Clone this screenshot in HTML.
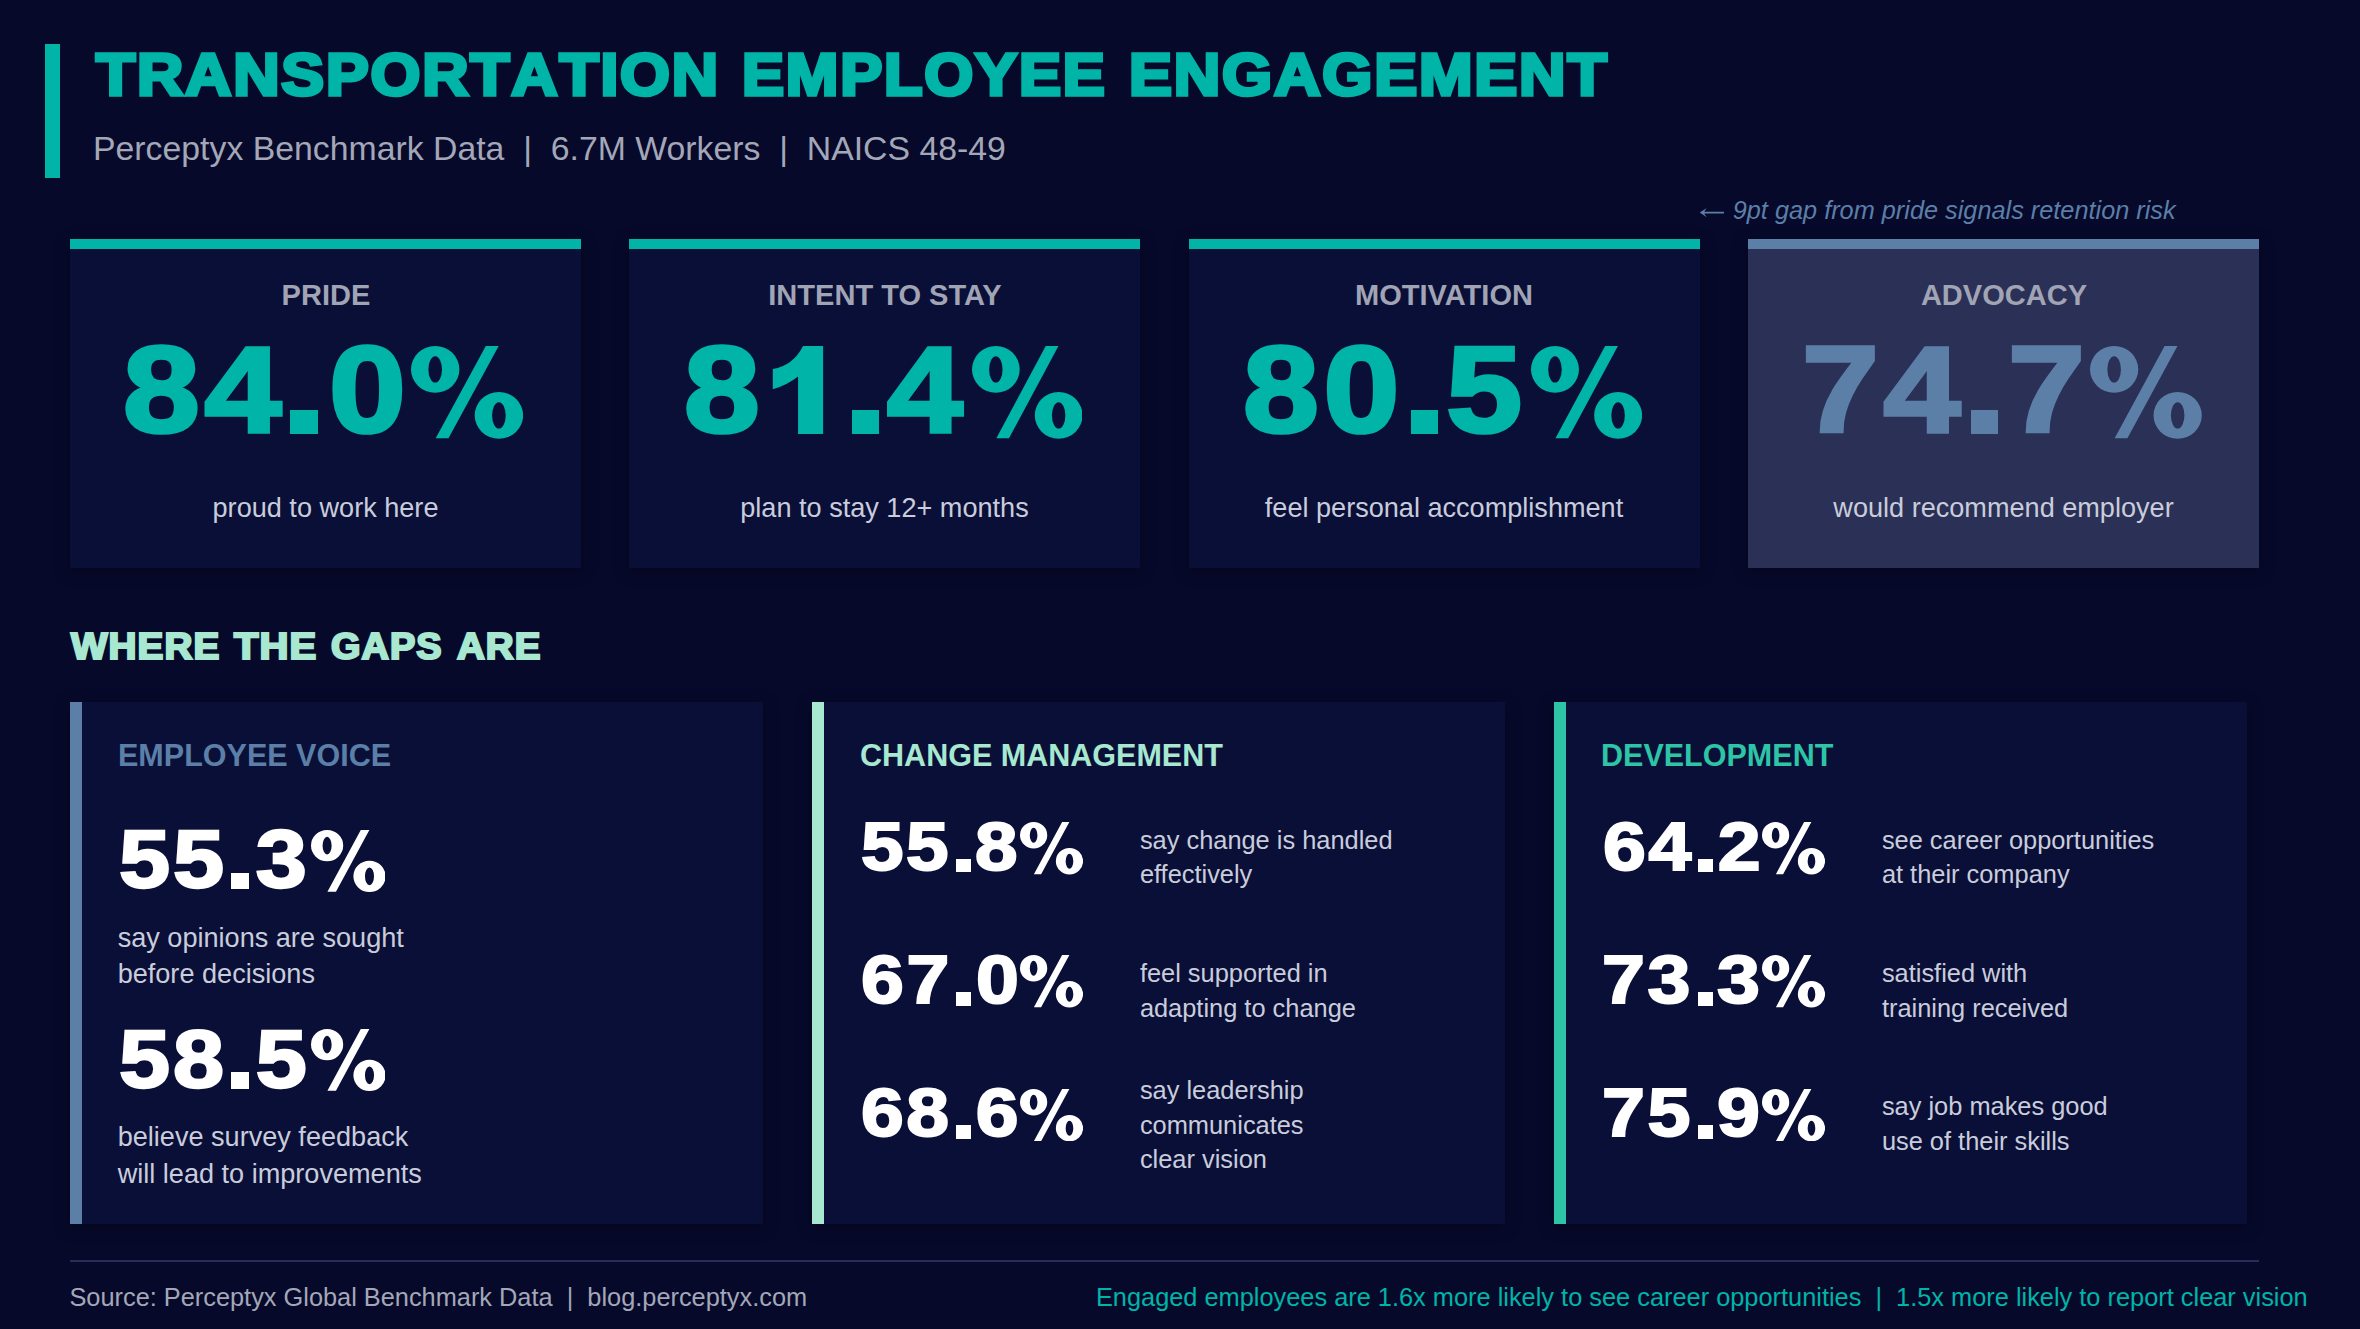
<!DOCTYPE html>
<html lang="en">
<head>
<meta charset="utf-8">
<title>Transportation Employee Engagement</title>
<style>
*{margin:0;padding:0;box-sizing:border-box}
html,body{width:2360px;height:1329px;overflow:hidden;background:#06092a}
body{position:relative;font-family:"Liberation Sans",sans-serif;color:#c9cddb;font-kerning:normal}
.t{position:absolute;white-space:nowrap;line-height:1}
.blk{font-kerning:none;font-weight:700;display:inline-block;transform-origin:0 0;paint-order:stroke fill;-webkit-text-stroke-color:currentColor}
#bar{position:absolute;left:45px;top:44px;width:15px;height:134px;background:#00b4a8}
.card{position:absolute;top:239px;width:511px;height:328.5px;background:#0a0f38;border-top:10px solid #00b4a8;box-shadow:0 3px 15px rgba(0,0,10,.38)}
#c1{left:70px}#c2{left:629px}#c3{left:1188.5px}#c4{left:1748px;background:#2b3056;border-top-color:#5c7fa8}
.gap{position:absolute;top:701.5px;width:693px;height:522.8px;background:#0a0f38;border-left:12px solid #5c7fa8;box-shadow:0 3px 15px rgba(0,0,10,.38)}
#g1{left:70px}#g2{left:812px;border-left-color:#a8e8d0}#g3{left:1554px;border-left-color:#2ec4a6}
#fline{position:absolute;left:69.7px;top:1259.7px;width:2189.3px;height:2px;background:#282c56}
</style>
</head>
<body>
<div id="bar"></div>
<div class="t" style="left:96.24px;top:45.53px;font-size:58.8px;color:#00b4a8"><span class="blk" style="-webkit-text-stroke-width:3.6px;transform:scaleX(1.0910);letter-spacing:1.65px">TRANSPORTATION</span></div>
<div class="t" style="left:742.21px;top:45.53px;font-size:58.8px;color:#00b4a8"><span class="blk" style="-webkit-text-stroke-width:3.6px;transform:scaleX(1.0725);letter-spacing:1.65px">EMPLOYEE</span></div>
<div class="t" style="left:1128.96px;top:45.53px;font-size:58.8px;color:#00b4a8"><span class="blk" style="-webkit-text-stroke-width:3.6px;transform:scaleX(1.0951);letter-spacing:1.65px">ENGAGEMENT</span></div>
<div class="t" style="left:93.03px;top:131.59px;font-size:33.8px;color:#a3a7b8">Perceptyx Benchmark Data&nbsp; |&nbsp; 6.7M Workers&nbsp; |&nbsp; NAICS 48-49</div>
<svg style="position:absolute;left:1698px;top:204px" width="28" height="18" viewBox="1698 204 28 18"><path d="M1699.8 212.6 L1706.7 207.9 Q1704.7 210.5 1704.3 211.75 L1724 211.75 L1724 213.45 L1704.3 213.45 Q1704.7 214.7 1706.7 217.3 Z" fill="#5c7fa8"/></svg>
<div class="t" style="left:1732.74px;top:198.28px;font-size:25.3px;color:#5c7fa8;font-style:italic">9pt gap from pride signals retention risk</div>
<div class="card" id="c1"></div>
<div class="card" id="c2"></div>
<div class="card" id="c3"></div>
<div class="card" id="c4"></div>
<div class="t" style="left:-74.50px;width:800px;text-align:center;top:279.64px;font-size:30.2px;color:#a0a4b4;font-weight:700;transform:scaleX(0.962)">PRIDE</div>
<div class="t" style="left:122.69px;top:329.10px;font-size:122px;color:#00b4a8"><span class="blk" style="-webkit-text-stroke-width:3.66px;transform:scaleX(1.1320);letter-spacing:4.1px">84<span style="visibility:hidden">.</span>0</span></div>
<div style="position:absolute;left:290.40px;top:410.28px;width:27.16px;height:24.22px;background:#00b4a8"></div>
<svg style="position:absolute;left:411.30px;top:345.99px" width="112.10" height="92.76" viewBox="0 0 112.1 92.8" preserveAspectRatio="none"><path fill="#00b4a8" fill-rule="evenodd" d="M0.00 23.40a24.2 23.4 0 1 0 48.4 0a24.2 23.4 0 1 0 -48.4 0zM17.40 23.40a6.8 13.2 0 1 1 13.6 0a6.8 13.2 0 1 1 -13.6 0zM63.70 69.40a24.2 23.4 0 1 0 48.4 0a24.2 23.4 0 1 0 -48.4 0zM81.10 69.40a6.8 13.2 0 1 1 13.6 0a6.8 13.2 0 1 1 -13.6 0zM74.8 0L87.7 0L37.5 92.4L24.7 92.4z"/></svg>
<div class="t" style="left:-74.50px;width:800px;text-align:center;top:493.86px;font-size:27.1px;color:#c9cddb">proud to work here</div>
<div class="t" style="left:484.50px;width:800px;text-align:center;top:279.64px;font-size:30.2px;color:#a0a4b4;font-weight:700;transform:scaleX(0.962)">INTENT TO STAY</div>
<div class="t" style="left:683.82px;top:329.10px;font-size:122px;color:#00b4a8"><span class="blk" style="-webkit-text-stroke-width:3.66px;transform:scaleX(1.1162);letter-spacing:4.1px">8<span style="visibility:hidden">1</span><span style="visibility:hidden">.</span>4</span></div>
<div style="position:absolute;left:851.50px;top:410.28px;width:27.16px;height:24.22px;background:#00b4a8"></div>
<svg style="position:absolute;left:770px;top:344px" width="56" height="92" viewBox="770 344 56 92"><path fill="#00b4a8" d="M803 345.9L823.1 345.9L823.1 433.9L798.06 433.9L798.06 376.4Q787.6 384.8 772.8 389.2L772.8 368.9Q793.1 365.6 803 345.9Z"/></svg>
<svg style="position:absolute;left:971.80px;top:345.99px" width="110.50" height="92.76" viewBox="0 0 112.1 92.8" preserveAspectRatio="none"><path fill="#00b4a8" fill-rule="evenodd" d="M0.00 23.40a24.2 23.4 0 1 0 48.4 0a24.2 23.4 0 1 0 -48.4 0zM17.40 23.40a6.8 13.2 0 1 1 13.6 0a6.8 13.2 0 1 1 -13.6 0zM63.70 69.40a24.2 23.4 0 1 0 48.4 0a24.2 23.4 0 1 0 -48.4 0zM81.10 69.40a6.8 13.2 0 1 1 13.6 0a6.8 13.2 0 1 1 -13.6 0zM74.8 0L87.7 0L37.5 92.4L24.7 92.4z"/></svg>
<div class="t" style="left:484.50px;width:800px;text-align:center;top:493.86px;font-size:27.1px;color:#c9cddb">plan to stay 12+ months</div>
<div class="t" style="left:1044.00px;width:800px;text-align:center;top:279.64px;font-size:30.2px;color:#a0a4b4;font-weight:700;transform:scaleX(0.962)">MOTIVATION</div>
<div class="t" style="left:1243.42px;top:329.10px;font-size:122px;color:#00b4a8"><span class="blk" style="-webkit-text-stroke-width:3.66px;transform:scaleX(1.1177);letter-spacing:4.1px">80<span style="visibility:hidden">.</span>5</span></div>
<div style="position:absolute;left:1411.10px;top:410.28px;width:27.16px;height:24.22px;background:#00b4a8"></div>
<svg style="position:absolute;left:1531.20px;top:345.99px" width="111.10" height="92.76" viewBox="0 0 112.1 92.8" preserveAspectRatio="none"><path fill="#00b4a8" fill-rule="evenodd" d="M0.00 23.40a24.2 23.4 0 1 0 48.4 0a24.2 23.4 0 1 0 -48.4 0zM17.40 23.40a6.8 13.2 0 1 1 13.6 0a6.8 13.2 0 1 1 -13.6 0zM63.70 69.40a24.2 23.4 0 1 0 48.4 0a24.2 23.4 0 1 0 -48.4 0zM81.10 69.40a6.8 13.2 0 1 1 13.6 0a6.8 13.2 0 1 1 -13.6 0zM74.8 0L87.7 0L37.5 92.4L24.7 92.4z"/></svg>
<div class="t" style="left:1044.00px;width:800px;text-align:center;top:493.86px;font-size:27.1px;color:#c9cddb">feel personal accomplishment</div>
<div class="t" style="left:1603.50px;width:800px;text-align:center;top:279.64px;font-size:30.2px;color:#a0a4b4;font-weight:700;transform:scaleX(0.962)">ADVOCACY</div>
<div class="t" style="left:1801.83px;top:329.10px;font-size:122px;color:#5c7fa8"><span class="blk" style="-webkit-text-stroke-width:3.66px;transform:scaleX(1.1330);letter-spacing:4.1px">74<span style="visibility:hidden">.</span>7</span></div>
<div style="position:absolute;left:1971.10px;top:410.28px;width:27.16px;height:24.22px;background:#5c7fa8"></div>
<svg style="position:absolute;left:2090.10px;top:345.99px" width="111.80" height="92.76" viewBox="0 0 112.1 92.8" preserveAspectRatio="none"><path fill="#5c7fa8" fill-rule="evenodd" d="M0.00 23.40a24.2 23.4 0 1 0 48.4 0a24.2 23.4 0 1 0 -48.4 0zM17.40 23.40a6.8 13.2 0 1 1 13.6 0a6.8 13.2 0 1 1 -13.6 0zM63.70 69.40a24.2 23.4 0 1 0 48.4 0a24.2 23.4 0 1 0 -48.4 0zM81.10 69.40a6.8 13.2 0 1 1 13.6 0a6.8 13.2 0 1 1 -13.6 0zM74.8 0L87.7 0L37.5 92.4L24.7 92.4z"/></svg>
<div class="t" style="left:1603.50px;width:800px;text-align:center;top:493.86px;font-size:27.1px;color:#c9cddb">would recommend employer</div>
<div class="t" style="left:71.24px;top:628.63px;font-size:36px;color:#a8e8d0"><span class="blk" style="-webkit-text-stroke-width:2.2px;transform:scaleX(1.0745);letter-spacing:1.0px">WHERE</span></div>
<div class="t" style="left:234.07px;top:628.63px;font-size:36px;color:#a8e8d0"><span class="blk" style="-webkit-text-stroke-width:2.2px;transform:scaleX(1.1117);letter-spacing:1.0px">THE</span></div>
<div class="t" style="left:330.90px;top:628.63px;font-size:36px;color:#a8e8d0"><span class="blk" style="-webkit-text-stroke-width:2.2px;transform:scaleX(1.0514);letter-spacing:1.0px">GAPS</span></div>
<div class="t" style="left:456.72px;top:628.63px;font-size:36px;color:#a8e8d0"><span class="blk" style="-webkit-text-stroke-width:2.2px;transform:scaleX(1.0692);letter-spacing:1.0px">ARE</span></div>
<div class="gap" id="g1"></div><div class="gap" id="g2"></div><div class="gap" id="g3"></div>
<div class="t" style="left:117.76px;top:739.94px;font-size:31.5px;color:#5c7fa8;font-weight:700;transform-origin:0 0;transform:scaleX(0.9690)">EMPLOYEE VOICE</div>
<div class="t" style="left:859.55px;top:739.94px;font-size:31.5px;color:#a8e8d0;font-weight:700;transform-origin:0 0;transform:scaleX(0.9690)">CHANGE MANAGEMENT</div>
<div class="t" style="left:1600.86px;top:739.94px;font-size:31.5px;color:#2ec4a6;font-weight:700;transform-origin:0 0;transform:scaleX(0.9690)">DEVELOPMENT</div>
<div class="t" style="left:118.85px;top:818.39px;font-size:81.5px;color:#fff"><span class="blk" style="-webkit-text-stroke-width:2.44px;transform:scaleX(1.1256);letter-spacing:2.74px">55<span style="visibility:hidden">.</span>3</span></div>
<div style="position:absolute;left:230.79px;top:872.72px;width:18.14px;height:16.18px;background:#fff"></div>
<svg style="position:absolute;left:310.80px;top:829.68px" width="74.60" height="61.96" viewBox="0 0 112.1 92.8" preserveAspectRatio="none"><path fill="#fff" fill-rule="evenodd" d="M0.00 23.40a24.2 23.4 0 1 0 48.4 0a24.2 23.4 0 1 0 -48.4 0zM17.40 23.40a6.8 13.2 0 1 1 13.6 0a6.8 13.2 0 1 1 -13.6 0zM63.70 69.40a24.2 23.4 0 1 0 48.4 0a24.2 23.4 0 1 0 -48.4 0zM81.10 69.40a6.8 13.2 0 1 1 13.6 0a6.8 13.2 0 1 1 -13.6 0zM74.8 0L87.7 0L37.5 92.4L24.7 92.4z"/></svg>
<div class="t" style="left:117.65px;top:923.56px;font-size:27.1px;color:#c9cddb">say opinions are sought</div>
<div class="t" style="left:117.65px;top:960.16px;font-size:27.1px;color:#c9cddb">before decisions</div>
<div class="t" style="left:118.85px;top:1018.09px;font-size:81.5px;color:#fff"><span class="blk" style="-webkit-text-stroke-width:2.44px;transform:scaleX(1.1252);letter-spacing:2.74px">58<span style="visibility:hidden">.</span>5</span></div>
<div style="position:absolute;left:230.79px;top:1072.42px;width:18.14px;height:16.18px;background:#fff"></div>
<svg style="position:absolute;left:310.80px;top:1029.38px" width="74.60" height="61.96" viewBox="0 0 112.1 92.8" preserveAspectRatio="none"><path fill="#fff" fill-rule="evenodd" d="M0.00 23.40a24.2 23.4 0 1 0 48.4 0a24.2 23.4 0 1 0 -48.4 0zM17.40 23.40a6.8 13.2 0 1 1 13.6 0a6.8 13.2 0 1 1 -13.6 0zM63.70 69.40a24.2 23.4 0 1 0 48.4 0a24.2 23.4 0 1 0 -48.4 0zM81.10 69.40a6.8 13.2 0 1 1 13.6 0a6.8 13.2 0 1 1 -13.6 0zM74.8 0L87.7 0L37.5 92.4L24.7 92.4z"/></svg>
<div class="t" style="left:117.65px;top:1123.26px;font-size:27.1px;color:#c9cddb">believe survey feedback</div>
<div class="t" style="left:117.65px;top:1159.86px;font-size:27.1px;color:#c9cddb">will lead to improvements</div>
<div class="t" style="left:861.00px;top:812.64px;font-size:68.9px;color:#fff"><span class="blk" style="-webkit-text-stroke-width:2.07px;transform:scaleX(1.1095);letter-spacing:2.32px">55<span style="visibility:hidden">.</span>8</span></div>
<div style="position:absolute;left:955.62px;top:858.62px;width:15.34px;height:13.68px;background:#fff"></div>
<svg style="position:absolute;left:1020.30px;top:822.18px" width="63.10" height="52.39" viewBox="0 0 112.1 92.8" preserveAspectRatio="none"><path fill="#fff" fill-rule="evenodd" d="M0.00 23.40a24.2 23.4 0 1 0 48.4 0a24.2 23.4 0 1 0 -48.4 0zM17.40 23.40a6.8 13.2 0 1 1 13.6 0a6.8 13.2 0 1 1 -13.6 0zM63.70 69.40a24.2 23.4 0 1 0 48.4 0a24.2 23.4 0 1 0 -48.4 0zM81.10 69.40a6.8 13.2 0 1 1 13.6 0a6.8 13.2 0 1 1 -13.6 0zM74.8 0L87.7 0L37.5 92.4L24.7 92.4z"/></svg>
<div class="t" style="left:1139.89px;top:827.55px;font-size:25.4px;color:#c9cddb">say change is handled</div>
<div class="t" style="left:1139.89px;top:862.40px;font-size:25.4px;color:#c9cddb">effectively</div>
<div class="t" style="left:860.54px;top:945.94px;font-size:68.9px;color:#fff"><span class="blk" style="-webkit-text-stroke-width:2.07px;transform:scaleX(1.1184);letter-spacing:2.32px">67<span style="visibility:hidden">.</span>0</span></div>
<div style="position:absolute;left:955.62px;top:991.92px;width:15.34px;height:13.68px;background:#fff"></div>
<svg style="position:absolute;left:1020.30px;top:955.48px" width="63.10" height="52.39" viewBox="0 0 112.1 92.8" preserveAspectRatio="none"><path fill="#fff" fill-rule="evenodd" d="M0.00 23.40a24.2 23.4 0 1 0 48.4 0a24.2 23.4 0 1 0 -48.4 0zM17.40 23.40a6.8 13.2 0 1 1 13.6 0a6.8 13.2 0 1 1 -13.6 0zM63.70 69.40a24.2 23.4 0 1 0 48.4 0a24.2 23.4 0 1 0 -48.4 0zM81.10 69.40a6.8 13.2 0 1 1 13.6 0a6.8 13.2 0 1 1 -13.6 0zM74.8 0L87.7 0L37.5 92.4L24.7 92.4z"/></svg>
<div class="t" style="left:1139.89px;top:961.25px;font-size:25.4px;color:#c9cddb">feel supported in</div>
<div class="t" style="left:1139.89px;top:996.10px;font-size:25.4px;color:#c9cddb">adapting to change</div>
<div class="t" style="left:860.54px;top:1079.34px;font-size:68.9px;color:#fff"><span class="blk" style="-webkit-text-stroke-width:2.07px;transform:scaleX(1.1157);letter-spacing:2.32px">68<span style="visibility:hidden">.</span>6</span></div>
<div style="position:absolute;left:955.62px;top:1125.32px;width:15.34px;height:13.68px;background:#fff"></div>
<svg style="position:absolute;left:1020.30px;top:1088.88px" width="63.10" height="52.39" viewBox="0 0 112.1 92.8" preserveAspectRatio="none"><path fill="#fff" fill-rule="evenodd" d="M0.00 23.40a24.2 23.4 0 1 0 48.4 0a24.2 23.4 0 1 0 -48.4 0zM17.40 23.40a6.8 13.2 0 1 1 13.6 0a6.8 13.2 0 1 1 -13.6 0zM63.70 69.40a24.2 23.4 0 1 0 48.4 0a24.2 23.4 0 1 0 -48.4 0zM81.10 69.40a6.8 13.2 0 1 1 13.6 0a6.8 13.2 0 1 1 -13.6 0zM74.8 0L87.7 0L37.5 92.4L24.7 92.4z"/></svg>
<div class="t" style="left:1139.89px;top:1077.50px;font-size:25.4px;color:#c9cddb">say leadership</div>
<div class="t" style="left:1139.89px;top:1112.50px;font-size:25.4px;color:#c9cddb">communicates</div>
<div class="t" style="left:1139.89px;top:1147.30px;font-size:25.4px;color:#c9cddb">clear vision</div>
<div class="t" style="left:1602.54px;top:812.64px;font-size:68.9px;color:#fff"><span class="blk" style="-webkit-text-stroke-width:2.07px;transform:scaleX(1.1179);letter-spacing:2.32px">64<span style="visibility:hidden">.</span>2</span></div>
<div style="position:absolute;left:1697.62px;top:858.62px;width:15.34px;height:13.68px;background:#fff"></div>
<svg style="position:absolute;left:1762.30px;top:822.18px" width="63.10" height="52.39" viewBox="0 0 112.1 92.8" preserveAspectRatio="none"><path fill="#fff" fill-rule="evenodd" d="M0.00 23.40a24.2 23.4 0 1 0 48.4 0a24.2 23.4 0 1 0 -48.4 0zM17.40 23.40a6.8 13.2 0 1 1 13.6 0a6.8 13.2 0 1 1 -13.6 0zM63.70 69.40a24.2 23.4 0 1 0 48.4 0a24.2 23.4 0 1 0 -48.4 0zM81.10 69.40a6.8 13.2 0 1 1 13.6 0a6.8 13.2 0 1 1 -13.6 0zM74.8 0L87.7 0L37.5 92.4L24.7 92.4z"/></svg>
<div class="t" style="left:1881.89px;top:827.55px;font-size:25.4px;color:#c9cddb">see career opportunities</div>
<div class="t" style="left:1881.89px;top:862.40px;font-size:25.4px;color:#c9cddb">at their company</div>
<div class="t" style="left:1602.04px;top:945.94px;font-size:68.9px;color:#fff"><span class="blk" style="-webkit-text-stroke-width:2.07px;transform:scaleX(1.1193);letter-spacing:2.32px">73<span style="visibility:hidden">.</span>3</span></div>
<div style="position:absolute;left:1697.62px;top:991.92px;width:15.34px;height:13.68px;background:#fff"></div>
<svg style="position:absolute;left:1762.30px;top:955.48px" width="63.10" height="52.39" viewBox="0 0 112.1 92.8" preserveAspectRatio="none"><path fill="#fff" fill-rule="evenodd" d="M0.00 23.40a24.2 23.4 0 1 0 48.4 0a24.2 23.4 0 1 0 -48.4 0zM17.40 23.40a6.8 13.2 0 1 1 13.6 0a6.8 13.2 0 1 1 -13.6 0zM63.70 69.40a24.2 23.4 0 1 0 48.4 0a24.2 23.4 0 1 0 -48.4 0zM81.10 69.40a6.8 13.2 0 1 1 13.6 0a6.8 13.2 0 1 1 -13.6 0zM74.8 0L87.7 0L37.5 92.4L24.7 92.4z"/></svg>
<div class="t" style="left:1881.89px;top:961.25px;font-size:25.4px;color:#c9cddb">satisfied with</div>
<div class="t" style="left:1881.89px;top:996.10px;font-size:25.4px;color:#c9cddb">training received</div>
<div class="t" style="left:1602.04px;top:1079.34px;font-size:68.9px;color:#fff"><span class="blk" style="-webkit-text-stroke-width:2.07px;transform:scaleX(1.1198);letter-spacing:2.32px">75<span style="visibility:hidden">.</span>9</span></div>
<div style="position:absolute;left:1697.62px;top:1125.32px;width:15.34px;height:13.68px;background:#fff"></div>
<svg style="position:absolute;left:1762.30px;top:1088.88px" width="63.10" height="52.39" viewBox="0 0 112.1 92.8" preserveAspectRatio="none"><path fill="#fff" fill-rule="evenodd" d="M0.00 23.40a24.2 23.4 0 1 0 48.4 0a24.2 23.4 0 1 0 -48.4 0zM17.40 23.40a6.8 13.2 0 1 1 13.6 0a6.8 13.2 0 1 1 -13.6 0zM63.70 69.40a24.2 23.4 0 1 0 48.4 0a24.2 23.4 0 1 0 -48.4 0zM81.10 69.40a6.8 13.2 0 1 1 13.6 0a6.8 13.2 0 1 1 -13.6 0zM74.8 0L87.7 0L37.5 92.4L24.7 92.4z"/></svg>
<div class="t" style="left:1881.89px;top:1094.10px;font-size:25.4px;color:#c9cddb">say job makes good</div>
<div class="t" style="left:1881.89px;top:1129.35px;font-size:25.4px;color:#c9cddb">use of their skills</div>
<div id="fline"></div>
<div class="t" style="left:69.45px;top:1285.34px;font-size:25.35px;color:#a3a7b8">Source: Perceptyx Global Benchmark Data&nbsp; |&nbsp; blog.perceptyx.com</div>
<div class="t" style="left:1095.92px;top:1285.32px;font-size:25.37px;color:#00b4a8">Engaged employees are 1.6x more likely to see career opportunities&nbsp; |&nbsp; 1.5x more likely to report clear vision</div>
</body>
</html>
